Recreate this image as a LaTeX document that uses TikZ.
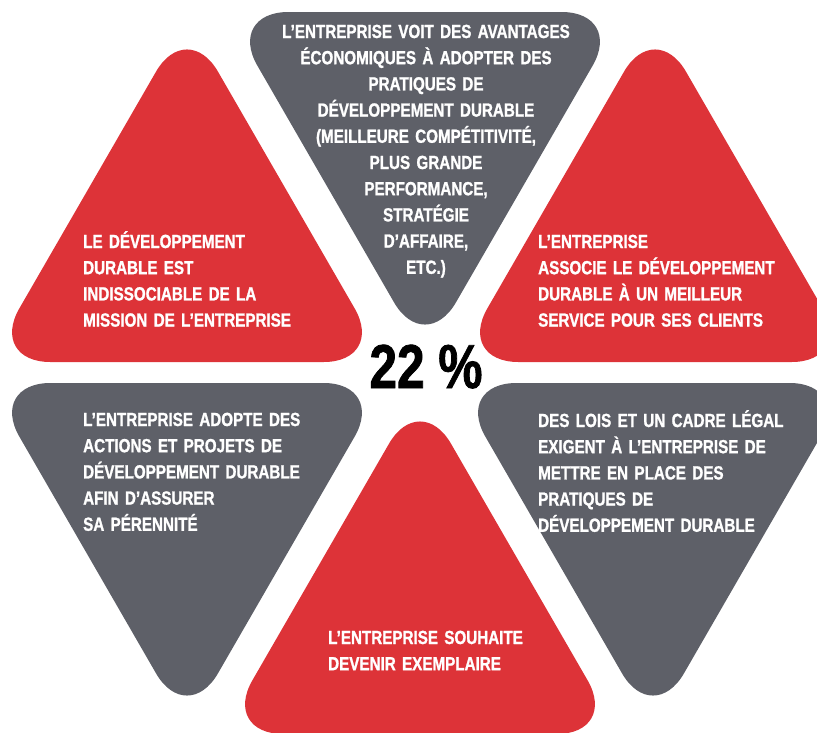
\documentclass[tikz,border=0pt]{standalone}
\usepackage{fontspec}
\newfontfamily\condfont{Liberation Sans}[FakeStretch=0.8,FakeBold=1.2]
\definecolor{tred}{RGB}{221,51,56}
\definecolor{tgray}{RGB}{94,96,104}
\tikzset{
  tri/.style={rounded corners=62pt},
  redtri/.style={tri, fill=tred},
  graytri/.style={tri, fill=tgray},
  txt/.style={font=\condfont\bfseries\fontsize{19}{26.2}\selectfont, text=white, inner sep=0pt, align=left, text width=300pt, anchor=base west},
  ctxt/.style={txt, align=center, text width=330pt, anchor=base},
  bigtxt/.style={font=\condfont\bfseries\fontsize{62}{62}\selectfont, text=black, inner sep=0pt, anchor=base}
}
\begin{document}
\begin{tikzpicture}[x=1pt,y=-1pt]
\useasboundingbox (0,0) rectangle (817,732);
% upper row
\path[redtri] (-11.6,362) -- (385.6,362) -- (187,18) -- cycle;
\path[graytri] (226.4,12) -- (623.6,12) -- (425,356) -- cycle;
\path[redtri] (456.4,362) -- (853.6,362) -- (655,18) -- cycle;
% lower row
\path[graytri] (-11.6,383) -- (385.6,383) -- (187,727) -- cycle;
\path[redtri] (221.4,734) -- (618.6,734) -- (420,390) -- cycle;
\path[graytri] (454.4,383) -- (851.6,383) -- (653,727) -- cycle;
% texts
\node[ctxt] (top) at (426,38) {L’ENTREPRISE VOIT DES AVANTAGES\\ÉCONOMIQUES À ADOPTER DES\\PRATIQUES DE\\DÉVELOPPEMENT DURABLE\\(MEILLEURE COMPÉTITIVITÉ,\\PLUS GRANDE\\PERFORMANCE,\\STRATÉGIE\\D’AFFAIRE,\\ETC.)};
\node[txt] (ul) at (83,248) {LE DÉVELOPPEMENT\\DURABLE EST\\INDISSOCIABLE DE LA\\MISSION DE L’ENTREPRISE};
\node[txt] (ur) at (538,248) {L’ENTREPRISE\\ASSOCIE LE DÉVELOPPEMENT\\DURABLE À UN MEILLEUR\\SERVICE POUR SES CLIENTS};
\node[txt] (ll) at (83,426) {L’ENTREPRISE ADOPTE DES\\ACTIONS ET PROJETS DE\\DÉVELOPPEMENT DURABLE\\AFIN D’ASSURER\\SA PÉRENNITÉ};
\node[txt] (lr) at (538,427) {DES LOIS ET UN CADRE LÉGAL\\EXIGENT À L’ENTREPRISE DE\\METTRE EN PLACE DES\\PRATIQUES DE\\DÉVELOPPEMENT DURABLE};
\node[txt] (bot) at (328,644) {L’ENTREPRISE SOUHAITE\\DEVENIR EXEMPLAIRE};
\node[bigtxt] (pct) at (426,388) {22 \%};
\end{tikzpicture}
\end{document}
